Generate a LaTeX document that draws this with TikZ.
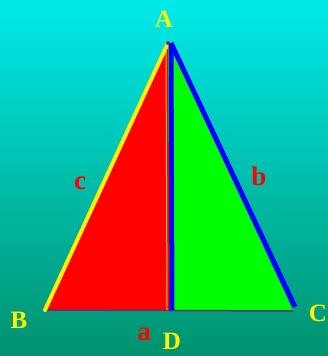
\documentclass[tikz,border=0pt]{standalone}
\usepackage{fontspec}
\setmainfont{Liberation Serif}
\usetikzlibrary{positioning}

\definecolor{bgtop}{RGB}{0,234,234}
\definecolor{bgbottom}{RGB}{0,146,110}
\definecolor{basecol}{RGB}{90,50,130}

\begin{document}
\begin{tikzpicture}[
  x=1pt, y=-1pt,
  vlabel/.style={text=yellow, font=\fontsize{25}{25}\selectfont\bfseries, inner sep=0pt},
  slabel/.style={text=red, font=\fontsize{27}{27}\selectfont\bfseries, inner sep=0pt},
  side/.style={line width=4pt, line cap=round}
]
  %% Background
  \shade[top color=bgtop, bottom color=bgbottom] (0,0) rectangle (328,356);
  \useasboundingbox (0,0) rectangle (328,356);

  %% Vertices
  \coordinate (A) at (168,43);
  \coordinate (B) at (45,310);
  \coordinate (C) at (293,311);
  \coordinate (D) at (170,310);

  %% Two halves
  \fill[red] (A) -- (B) -- (D) -- cycle;
  \fill[green] (A) -- (D) -- (C) -- cycle;

  %% Sides
  \draw[basecol, line width=1.5pt] (B) -- (C);
  \draw[yellow, side] (A) -- (B);
  \draw[yellow!70!orange, line width=1pt] ([xshift=-2pt]A) -- ([xshift=-3pt]D);
  \draw[blue, line width=5pt] ([xshift=3pt]A) -- ([xshift=2pt]D);
  \draw[blue, line width=5pt] ([xshift=3pt]A) -- ([xshift=2pt,yshift=4pt]C);
  \fill[basecol] (A) circle (2pt);

  %% Labels
  \node[vlabel] (labA) at (164,19) {A};
  \node[vlabel] (labB) at (19,320) {B};
  \node[vlabel] (labC) at (318,313) {C};
  \node[vlabel] (labD) at (172,341) {D};
  \node[slabel] (laba) at (144,334) {a};
  \node[slabel] (labb) at (259,176) {b};
  \node[slabel] (labc) at (80,183) {c};
\end{tikzpicture}
\end{document}
